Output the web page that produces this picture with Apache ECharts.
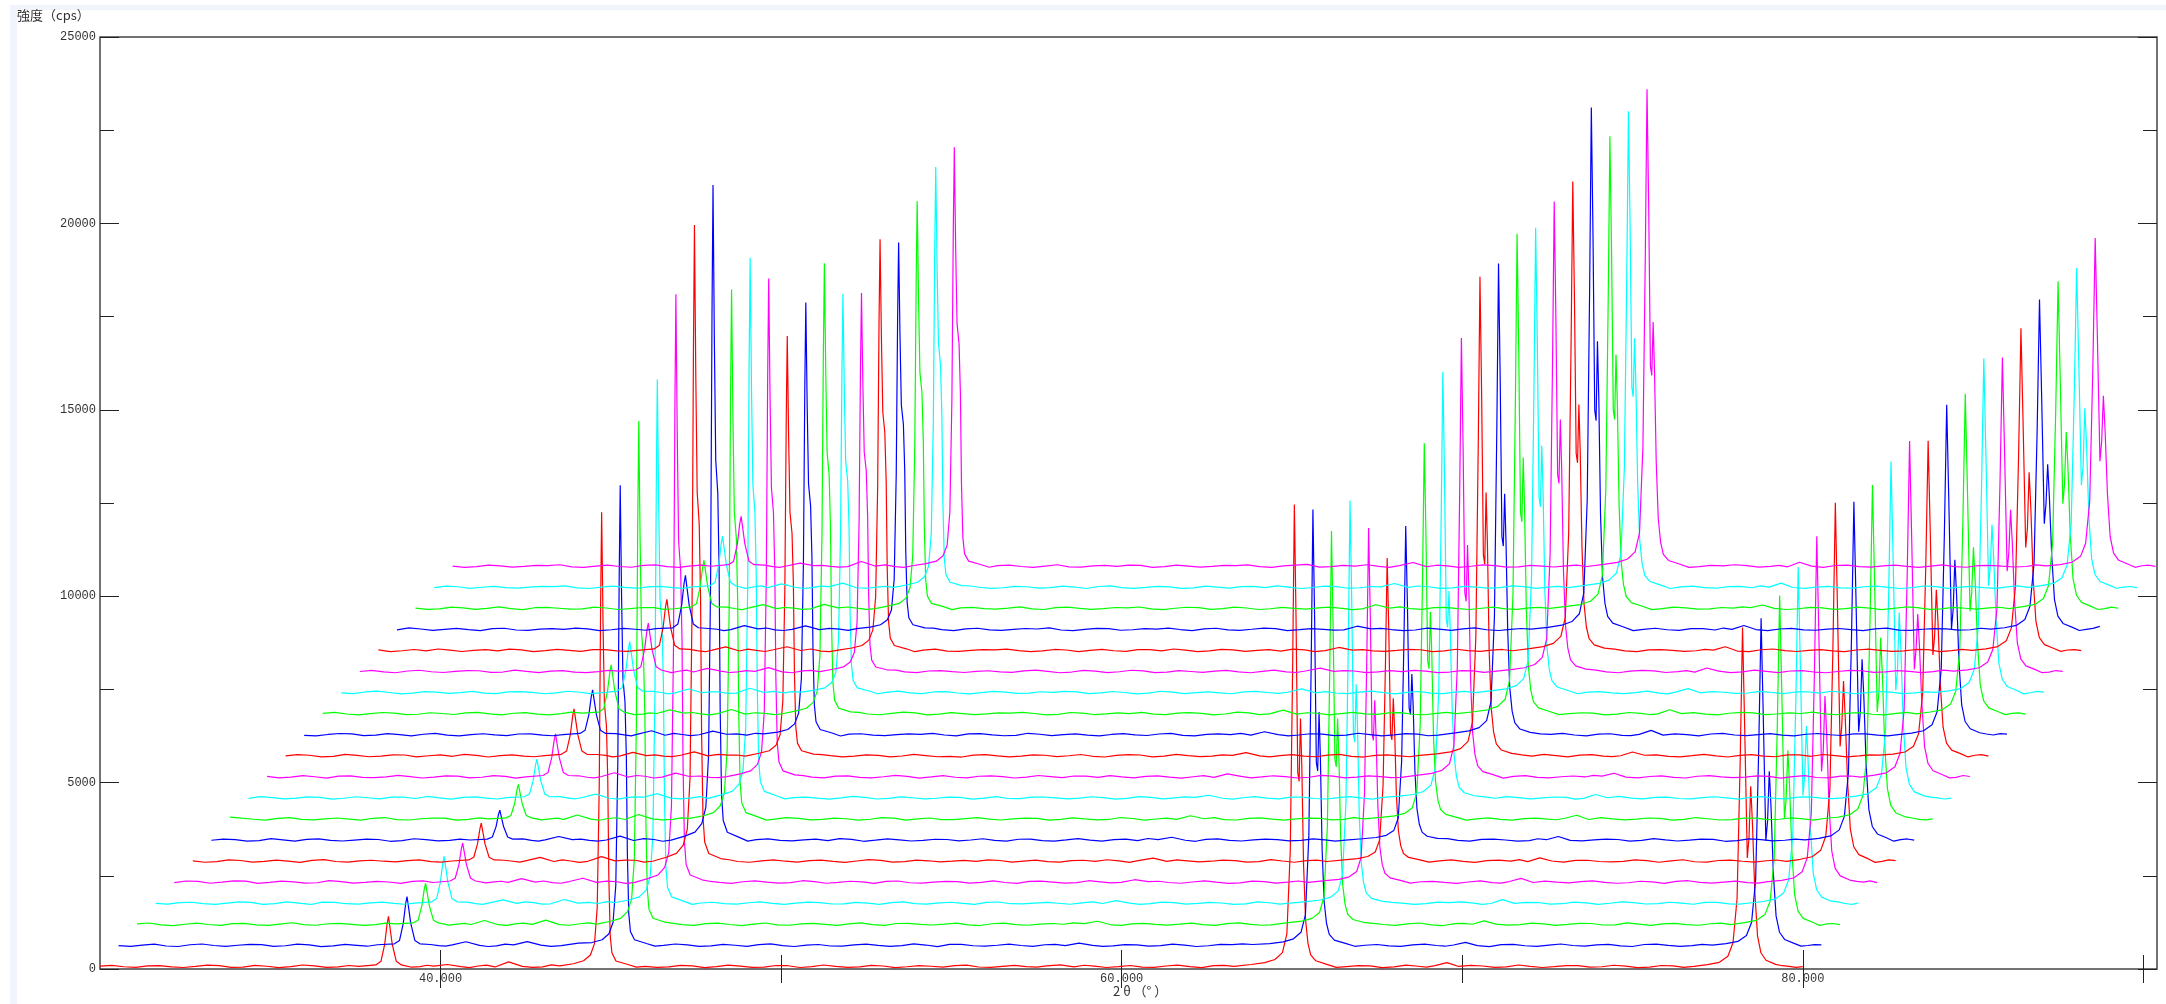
<!DOCTYPE html>
<html><head><meta charset="utf-8"><style>html,body{margin:0;padding:0;background:#fff}#c{width:2166px;height:1004px}</style>
<script src="https://cdn.jsdelivr.net/npm/echarts@6/dist/echarts.min.js"></script></head>
<body><div id="c"></div>
<script>
const twoTheta=[30,30.7,31.4,32.1,32.8,33.5,34.2,34.9,35.6,36.3,37,37.6,
38.1,38.25,38.36,38.43,38.47,38.51,38.58,38.7,38.85,
39.4,39.8,40.2,40.6,41.1,41.6,42,42.4,43,43.5,
43.9,44.2,44.4,44.52,44.6,44.66,44.7,44.73,44.77,44.81,44.87,44.91,44.94,44.98,45.03,45.15,45.5,
46,46.7,47.4,48.1,48.8,49.5,50.2,50.9,51.6,52.3,53,53.7,54.4,55.1,55.8,56.5,57.2,57.8,58.2,58.6,59.2,59.9,60.6,61.3,62,62.7,63.3,
63.8,64.2,64.5,64.72,64.85,64.95,65.02,65.07,65.12,65.17,65.21,65.25,65.29,65.34,65.4,65.47,65.55,65.7,66,
66.6,67.3,68,68.7,69.2,69.55,69.9,70.6,71.3,72,72.7,73.4,74.1,74.8,75.5,76.2,76.8,
77.2,77.55,77.8,77.95,78.07,78.16,78.23,78.29,78.37,78.42,78.47,78.52,78.59,78.67,78.77,78.92,79.2,
79.6,80];
const baselineTheta=[30.35,31.05,31.75,32.45,33.15,33.85,34.55,35.25,35.95,36.65,37.3,
39.15,39.6,40.85,41.35,42.7,43.25,
45.75,46.35,47.05,47.75,48.45,49.15,49.85,50.55,51.25,51.95,52.65,53.35,54.05,54.75,55.45,56.15,56.85,57.5,58.9,59.55,60.25,60.95,61.65,62.35,63,
66.3,66.95,67.65,68.35,68.95,70.25,70.95,71.65,72.35,73.05,73.75,74.45,75.15,75.85,76.5,
79.4,79.8];
const scan01=[75,60,82,55,70,88,52,74,63,85,58,72,110,205,670,1210,1410,1140,670,205,110,65,78,120,62,80,55,190,70,58,85,140,220,375,680,1650,4940,9810,12250,9330,7130,6530,5060,2510,920,435,215,120,
70,58,84,62,76,50,88,66,72,56,81,60,74,90,54,70,63,85,110,57,78,66,52,80,62,90,72,
120,170,255,440,940,3170,8120,12460,9360,5270,5030,6720,5390,2800,1310,690,380,220,130,
66,82,58,74,90,170,68,80,55,72,64,88,60,76,52,84,70,
115,180,340,705,1890,5520,9160,6615,2980,3520,4900,3930,2070,890,435,235,125,70,62];
const scan01b=[98,44,92,40,104,46,96,38,108,42,94,48,100,36,106,44,110,50,42,96,38,102,46,94,40,108,44,98,36,92,50,104,42,96,48,100,40,94,46,106,38,98,44,90,36,104,48,96,42,108,40,92,50,100,38,94,46,88,44];
const scan02=[60,78,52,85,66,72,90,58,80,54,70,86,110,200,660,1185,1380,1120,660,200,110,62,80,165,68,55,82,170,74,60,130,145,220,380,690,1675,5005,9940,12410,9450,7225,6610,5130,2540,935,440,220,120,
68,80,56,72,88,60,75,52,84,70,62,78,95,58,72,66,86,60,130,70,55,82,64,76,58,88,92,
117,164,245,420,888,2992,7668,11760,8838,4980,4746,6330,5078,2642,1239,655,362,210,128,
72,56,84,66,78,150,62,88,58,74,66,80,54,92,70,60,78,
114,175,333,684,1824,5332,8840,6384,2876,3403,4740,3806,2000,859,421,228,123,66,82];
const scan02b=[42,100,38,106,44,94,40,104,36,98,46,92,48,38,102,44,96,50,106,40,96,44,108,38,92,48,100,42,110,36,94,46,104,40,98,44,90,50,102,38,96,108,44,92,40,100,46,36,98,42,106,48,94,38,104,44,96,50,88];
const scan03=[82,56,70,64,88,54,76,60,84,68,58,80,105,180,565,1005,1170,950,565,180,105,72,64,170,58,78,66,180,60,84,72,150,230,408,745,1825,5470,10870,13570,10330,7900,7225,5605,2770,1015,475,230,125,
60,86,64,74,54,82,68,78,58,90,66,72,52,84,62,76,70,88,150,56,80,68,74,60,86,66,54,
112,154,228,386,808,2708,6928,10620,7982,4501,4290,5590,4486,2391,1125,598,334,197,123,
64,80,56,86,70,160,74,58,82,66,90,54,72,78,62,84,60,
114,176,335,687,1834,5362,8890,6420,2892,3422,4740,3806,2010,864,423,229,123,78,60];
const scan03b=[104,36,98,42,94,38,110,44,96,40,102,46,92,38,100,44,106,92,40,98,36,104,44,96,38,108,42,94,50,100,36,98,44,90,106,40,94,48,102,38,108,44,96,40,104,36,92,46,100,42,94,50,108,38,96,44,102,40,90];
const scan04=[66,84,58,72,90,60,74,100,56,80,66,70,108,195,635,1140,1330,1080,635,195,108,60,80,160,66,84,54,170,72,62,88,155,240,420,772,1900,5690,11310,14120,10750,8220,7515,5830,2880,1055,490,240,125,
76,58,82,66,72,88,54,70,84,60,78,64,92,56,74,68,80,62,140,72,58,86,66,76,54,82,70,
113,156,232,394,826,2770,7090,10870,8170,4606,4390,5940,4766,2446,1150,610,340,200,124,
70,58,84,74,62,165,66,88,56,78,68,84,60,72,90,54,76,
115,178,341,701,1874,5482,9090,6564,2956,3498,4820,3870,2054,882,431,232,124,62,76];
const scan04b=[44,96,38,104,40,108,36,94,46,100,42,98,40,106,44,92,110,38,96,44,104,36,100,48,92,40,108,44,96,38,102,50,94,42,106,40,98,44,90,36,104,46,92,40,98,106,38,94,44,100,36,108,48,96,42,90,44,104,38];
const scan05=[58,88,70,96,62,78,54,84,66,74,90,60,100,175,540,960,1120,910,540,175,100,78,62,165,70,56,86,175,64,80,58,165,260,465,860,2120,6380,12690,15840,12055,9215,8430,6535,3225,1175,545,260,133,
64,80,72,58,86,62,76,90,54,70,82,66,60,88,72,56,78,64,135,84,60,74,68,52,86,72,62,
108,146,212,355,735,2445,6245,9570,7195,4060,3870,4950,3974,2160,1020,545,308,184,118,
80,62,74,56,86,170,60,72,84,66,54,78,88,62,70,58,82,
116,181,348,720,1926,5638,9350,6752,3040,3596,5060,4062,2112,905,441,237,126,72,56];
const scan05b=[100,40,106,36,96,44,110,42,92,38,104,48,94,100,40,98,38,88,36,102,44,108,40,94,38,100,46,92,42,106,36,98,44,108,50,94,40,104,36,96,46,100,42,92,38,106,44,96,50,102,40,94,36,108,42,98,46,90,104];
const scan06=[74,56,86,62,70,90,58,76,66,84,54,72,100,172,530,935,1090,885,530,172,100,66,84,170,58,72,64,190,76,92,66,172,275,495,925,2290,6895,13720,17130,13035,9965,9110,7065,3480,1265,580,275,138,
58,76,66,84,60,72,88,54,78,68,62,86,70,56,82,64,74,90,150,60,76,66,84,54,72,80,58,
103,135,192,314,639,2103,5355,8200,6168,3485,3322,4440,3566,1859,883,477,273,168,111,
76,60,82,68,56,155,72,88,58,64,80,74,52,86,66,78,60,
118,185,358,743,1992,5836,9680,6989,3145,3722,4900,3934,2184,935,454,243,128,64,80];
const scan06b=[38,102,44,96,36,108,42,92,48,100,40,92,40,104,36,98,44,106,38,100,44,94,36,108,42,96,50,90,104,40,98,44,92,106,36,100,48,96,40,110,38,94,44,102,36,96,108,42,92,46,100,38,106,44,94,40,98,36,104];
const scan07=[64,82,54,74,88,60,68,84,56,78,62,70,95,150,430,750,870,710,430,150,95,58,74,165,82,60,70,175,56,84,68,175,280,510,950,2355,7100,14125,17640,13425,10260,9380,7275,3585,1300,595,280,140,
82,60,72,54,88,66,76,58,84,70,62,90,56,74,66,80,52,78,145,64,86,58,72,82,60,74,66,
104,137,196,323,659,2175,5543,8490,6385,3606,3438,4520,3630,1922,912,491,281,171,112,
62,86,70,54,78,165,60,76,84,58,72,66,88,56,80,64,74,
115,179,342,705,1884,5512,9140,6600,2972,3517,4920,3950,2065,886,433,233,124,80,66];
const scan07b=[96,40,106,38,100,44,92,36,104,46,94,102,38,96,42,108,36,40,98,46,92,106,36,100,44,90,48,104,38,96,42,108,40,94,110,36,100,44,92,48,98,38,106,42,94,38,104,48,96,40,108,44,92,36,100,46,94,38,98];
const scan08=[120,62,84,58,72,66,88,54,76,90,60,70,98,162,485,855,995,810,485,162,98,74,60,175,66,82,56,190,72,58,84,155,240,425,780,1915,5750,11430,14270,10860,8305,7595,5890,2910,1065,495,240,127,
66,84,58,76,62,90,70,54,80,64,74,86,60,72,56,82,68,60,155,76,54,84,66,72,88,58,70,
110,151,221,372,776,2590,6622,10150,7630,4304,4102,5630,4518,2288,1078,574,322,191,120,
74,58,80,64,88,170,56,72,66,84,60,76,54,90,62,70,82,
115,178,339,697,1862,5446,9030,6521,2937,3475,4930,3958,2041,876,428,231,124,58,74];
const scan08b=[90,38,104,44,96,36,108,42,94,40,100,46,94,36,102,44,98,38,106,44,92,40,108,36,96,50,104,42,94,38,100,46,108,36,92,104,42,98,36,94,46,106,40,100,38,92,48,104,44,96,36,108,42,90,50,100,38,96,44];
const scan09=[56,78,66,86,60,74,92,54,70,84,62,76,100,174,538,955,1110,900,538,174,100,64,80,170,60,76,88,185,62,72,56,157,245,432,795,1955,5866,11660,14560,11080,8475,7750,6010,2970,1085,505,245,128,
78,62,70,86,56,74,60,84,66,54,90,72,64,78,58,82,70,86,140,60,74,66,88,54,76,62,84,
116,161,241,413,870,2928,7500,11500,8643,4871,4642,5620,4510,2585,1213,642,356,207,127,
60,78,68,84,56,160,74,62,86,54,76,70,82,58,88,66,72,
115,178,341,701,1874,5482,9090,6564,2956,3498,5040,4046,2054,882,431,232,124,70,62];
const scan09b=[106,42,98,36,100,44,92,108,38,96,40,102,46,36,98,42,104,44,92,38,108,40,96,46,90,36,104,48,94,42,100,38,106,44,96,36,102,44,92,40,106,38,96,102,42,94,38,108,44,90,46,100,36,104,42,96,50,92,40];
const scan10=[80,60,72,88,54,68,76,62,90,58,82,66,105,185,590,1048,1220,990,590,185,105,58,72,180,64,86,60,170,78,54,74,150,230,404,738,1808,5418,10766,13440,10230,7825,7155,5550,2744,1006,471,230,123,
62,88,54,72,80,66,58,86,74,60,76,92,56,68,84,62,72,54,150,82,66,76,58,90,64,74,56,
117,164,247,423,894,3012,7720,11840,8898,5013,4778,6290,5046,2659,1247,659,364,211,129,
84,56,72,66,90,165,62,78,54,86,70,60,80,74,52,88,64,
115,178,340,701,1872,5476,9080,6557,2953,3494,4440,3566,2052,881,430,232,124,56,78];
const scan10b=[40,104,36,96,46,108,38,94,42,100,36,98,44,106,38,92,48,104,40,96,44,108,36,100,42,94,38,106,46,90,104,40,96,36,102,44,98,38,110,42,94,48,36,100,44,92,108,40,96,38,104,46,94,36,100,44,92,42,106];
const scan11=[66,84,54,78,62,90,70,56,82,72,60,76,108,195,635,1140,1330,1080,635,195,108,78,62,160,72,58,84,175,66,88,60,138,205,350,633,1534,4574,9078,11330,8628,6600,6038,4687,2322,858,408,205,115,
72,58,82,64,76,54,88,68,60,84,70,56,78,90,62,74,58,82,155,66,72,60,86,54,78,68,80,
121,173,263,456,970,3283,8423,12920,9708,5467,5210,7130,5718,2897,1355,713,391,224,134,
58,76,88,62,70,170,84,54,72,66,80,60,92,56,74,68,86,
112,171,324,662,1760,5140,8520,6154,2774,3281,4520,3630,1929,830,408,222,121,84,60];
const scan11b=[100,38,106,44,94,40,96,108,36,92,44,104,38,96,46,106,90,100,38,96,42,108,44,36,102,40,94,46,104,36,98,42,108,48,94,38,100,44,106,36,96,44,92,106,38,100,46,94,42,108,36,98,44,92,104,40,96,38,102];
const scan12=[54,76,90,60,70,82,58,74,66,88,56,72,105,190,610,1090,1270,1030,610,190,105,64,84,175,56,76,68,165,82,60,90,140,209,360,650,1577,4706,9342,11660,8878,6792,6213,4822,2388,881,418,209,116,
84,56,70,78,62,90,66,54,82,72,60,76,64,88,54,80,70,58,150,74,62,86,56,72,66,84,60,
120,171,260,449,955,3230,8286,12710,9550,5379,5126,6530,5238,2851,1334,702,386,222,133,
76,62,84,54,80,185,58,70,88,62,74,56,82,68,90,60,72,
114,176,336,690,1840,5380,8920,6442,2902,3433,4760,3822,2017,867,424,229,123,62,84];
const scan12b=[36,102,44,98,40,106,38,96,46,92,42,100,38,104,44,94,108,36,96,46,90,104,38,100,42,108,44,94,36,98,48,106,40,92,104,38,96,44,108,36,100,42,94,104,38,96,46,92,40,106,44,98,36,102,48,94,40,88,100];
const scan13=[78,60,68,84,54,74,90,62,80,56,70,86,110,200,660,1185,1380,1120,660,200,110,56,74,170,84,62,70,180,58,78,66,142,215,372,674,1640,4902,9734,12150,9251,7076,6472,5023,2486,916,432,215,118,
60,78,88,56,72,64,84,74,52,86,66,70,58,82,76,60,90,64,165,56,80,70,62,88,54,76,68,
121,173,263,456,971,3288,8436,12940,9723,5475,5218,6940,5566,2901,1357,714,392,224,134,
68,84,58,76,62,175,72,56,80,90,60,74,66,86,54,78,62,
113,173,327,671,1786,5218,8650,6248,2816,3330,4530,3638,1958,842,413,224,121,76,58];
const scan13b=[104,36,100,42,94,46,106,38,98,36,108,44,92,100,38,94,44,102,40,108,36,96,44,92,106,38,100,46,90,104,42,96,38,108,44,94,36,102,48,96,40,106,42,94,38,100,46,96,36,104,44,92,108,40,98,36,102,44,90];
const scan14=[62,86,72,56,80,66,54,88,74,60,78,64,110,207,686,1235,1440,1166,686,207,110,72,60,165,66,86,54,185,76,64,82,134,198,338,605,1461,4350,8630,10770,8202,6276,5741,4457,2210,819,391,198,113,
74,62,86,58,70,80,54,76,90,64,72,56,84,66,60,88,72,78,170,64,58,84,70,76,54,82,66,
120,170,257,444,943,3188,8176,12540,9423,5307,5058,6690,5366,2813,1317,694,382,220,132,
82,60,70,56,88,175,64,78,58,72,86,54,74,66,84,60,76,
115,178,339,697,1862,5446,9030,6521,2937,3475,4570,3670,2041,876,428,231,124,66,80];
const scan14b=[40,108,36,94,46,102,42,96,38,106,44,100,36,92,48,104,96,38,108,42,94,36,100,46,92,104,40,98,36,106,44,90,38,102,46,94,40,108,36,98,44,104,38,96,42,108,36,94,46,100,40,92,106,38,98,44,90,36,104];
const scan15=[70,58,84,64,76,90,56,72,82,54,68,78,110,200,655,1175,1370,1110,655,200,110,84,56,155,78,62,72,175,60,86,66,131,192,324,578,1390,4130,8190,10220,7784,5957,5450,4232,2100,780,375,192,111,
58,84,66,74,60,88,72,56,78,64,86,52,70,82,62,76,58,90,160,72,84,60,66,78,56,86,72,
120,171,259,448,953,3223,8267,12680,9528,5366,5114,6830,5478,2844,1331,700,385,221,133,
62,78,86,66,54,165,80,60,74,84,56,70,90,58,76,66,82,
112,171,323,659,1754,5122,8490,6132,2764,3270,4410,3542,1922,828,407,222,121,54,76];
const scan15b=[100,36,104,44,92,46,108,38,96,42,102,38,106,44,94,36,100,108,38,96,44,90,48,106,36,98,42,104,38,94,46,100,36,108,44,92,38,96,102,42,94,46,108,36,100,44,94,38,106,42,96,36,102,48,92,40,108,38,96];
const scan16=[84,62,56,78,70,60,86,66,74,90,58,72,110,207,686,1235,1440,1166,686,207,110,60,78,165,56,72,88,170,68,54,80,136,202,346,622,1504,4482,8894,11100,8453,6467,5916,4592,2276,842,401,202,114,
78,54,72,84,66,58,82,70,62,90,56,76,60,86,74,52,84,66,150,78,60,72,88,56,66,80,62,
120,171,259,447,951,3215,8247,12650,9505,5354,5102,6670,5350,2838,1328,699,385,221,133,
56,84,70,62,78,170,54,88,66,72,58,82,74,60,90,64,70,
113,174,329,675,1798,5254,8710,6291,2835,3353,4850,3894,1971,848,416,226,122,82,64];
const scan16b=[38,96,108,42,94,104,36,100,44,92,46,98,36,104,42,108,38,36,104,44,92,106,40,96,38,100,46,92,108,36,98,44,90,106,38,94,46,100,36,102,44,96,104,40,92,46,100,36,108,42,94,38,104,44,96,36,100,46,92];
const scan17=[58,80,72,64,88,54,76,68,84,60,74,90,113,215,720,1300,1520,1230,720,215,113,74,62,170,84,58,70,165,62,76,92,132,195,330,589,1419,4222,8374,10450,7959,6090,5571,4326,2146,797,381,195,112,
64,86,58,72,80,54,70,88,60,76,66,82,56,74,90,62,70,58,155,84,66,54,78,86,60,72,76,
126,182,280,490,1050,3570,9170,14070,10570,5950,5670,7800,6254,3150,1470,770,420,238,140,
72,60,88,54,70,175,66,80,58,76,62,84,52,74,86,60,78,
114,176,336,690,1840,5380,8920,6442,2902,3433,4500,3614,2017,867,424,229,123,68,150];
const scan17b=[108,42,96,36,100,44,92,104,38,98,46,94,38,106,40,96,44,104,36,100,42,94,108,38,96,46,90,102,36,100,44,106,38,92,48,96,36,104,44,108,40,94,36,100,44,92,106,38,98,46,94,36,104,42,92,48,100,40,96];
const scan18=[76,54,82,68,60,86,72,56,78,64,90,58,108,199,650,1165,1360,1100,650,199,108,58,84,170,62,76,56,175,82,68,60,135,201,343,616,1490,4438,8806,10990,8369,6404,5858,4547,2254,834,398,201,114,
82,60,74,56,88,68,62,80,54,72,86,64,78,58,66,84,70,54,165,76,60,88,64,72,56,82,68,
121,171,260,450,956,3235,8299,12730,9565,5387,5134,6880,5518,2855,1336,703,387,222,133,
64,80,54,74,88,160,70,58,84,62,76,66,90,56,72,82,60,
114,175,333,684,1824,5332,8840,6384,2876,3403,4800,3854,2000,859,421,228,123,60,72];
const scan18b=[40,100,44,108,36,96,46,104,38,92,42,100,36,96,44,106,40,36,94,46,108,38,100,42,92,106,36,98,44,104,38,94,48,100,36,108,42,96,38,104,44,94,36,100,46,92,108,38,96,44,102,36,106,42,94,48,98,38,104];
const scan19=[62,84,70,58,76,88,54,72,66,82,60,78,110,207,686,1235,1440,1166,686,207,110,84,58,160,70,62,86,180,56,74,68,138,205,352,634,1535,4578,9086,11340,8635,6607,6043,4691,2324,859,408,205,115,
70,56,84,62,76,90,58,68,82,54,74,88,60,72,64,86,56,78,170,66,84,54,72,60,88,76,62,
121,172,262,453,964,3263,8371,12840,9648,5433,5178,6750,5414,2879,1347,709,389,223,134,
78,62,86,56,72,180,64,76,54,84,68,60,88,72,58,80,66,
113,173,327,669,1782,5206,8630,6233,2809,3323,4870,3910,1953,840,412,224,121,74,58];
const scan19b=[102,38,96,46,92,106,36,100,44,94,40,40,108,36,98,44,92,104,38,94,46,100,36,108,42,96,38,102,46,92,106,36,98,44,90,104,38,96,44,108,40,94,36,100,44,96,106,38,92,46,100,36,104,42,94,38,108,44,90];
const scan20=[72,58,80,66,86,54,74,62,90,60,76,68,110,205,670,1210,1410,1140,670,205,110,56,76,150,84,66,58,195,74,60,82,137,205,351,632,1531,4566,9062,11310,8612,6589,6027,4678,2318,857,407,205,115,
86,62,72,54,80,66,90,58,74,64,84,56,76,120,60,72,66,84,170,58,76,68,86,54,72,80,62,
121,172,262,454,965,3268,8384,12860,9663,5442,5186,6620,5310,2884,1349,710,390,223,134,
60,76,84,66,54,175,72,88,58,80,64,74,56,86,70,62,78,
114,176,334,686,1830,5350,8870,6406,2886,3414,4640,3726,2006,862,422,228,123,82,64];
const scan20b=[36,100,44,94,108,38,96,42,104,36,98,100,40,92,46,106,38,42,98,36,108,44,92,100,38,96,46,90,104,36,100,44,94,108,40,96,36,106,44,92,48,100,38,94,108,44,90,36,100,46,96,38,104,42,94,48,106,40,96];
const scans=[scan01,scan02,scan03,scan04,scan05,scan06,scan07,scan08,scan09,scan10,scan11,scan12,scan13,scan14,scan15,scan16,scan17,scan18,scan19,scan20];
const scansBaseline=[scan01b,scan02b,scan03b,scan04b,scan05b,scan06b,scan07b,scan08b,scan09b,scan10b,scan11b,scan12b,scan13b,scan14b,scan15b,scan16b,scan17b,scan18b,scan19b,scan20b];
const scanColors=['#ff0000','#0000ff','#00ff00','#00ffff','#ff00ff'];
const xShiftPerScan=0.545, yShiftPerScan=565;
const xTickLabels=[40,60,80], xMinorTicks=[50,70,90];
const yTickLabels=[0,5000,10000,15000,20000,25000], yMinorTicks=[2500,7500,12500,17500,22500];
const xMin=30,xMax=90.4,yMin=0,yMax=25000;
const yTitle='強度（cps）', xTitle='2 θ （° ）';

const monoFont='"Liberation Mono","DejaVu Sans Mono",monospace';
const xAx=(pos,vals,len,labels)=>({type:'value',position:pos,min:xMin,max:xMax,splitLine:{show:false},axisLine:{show:false},
  axisTick:{show:true,inside:true,length:len,customValues:vals,lineStyle:{color:'#222',width:1}},
  axisLabel:labels?{show:true,customValues:vals,margin:4,color:'#333',fontFamily:monoFont,fontSize:12,formatter:v=>v.toFixed(3)}:{show:false}});
const yAx=(pos,vals,len,labels)=>({type:'value',position:pos,min:yMin,max:yMax,splitLine:{show:false},axisLine:{show:false},
  axisTick:{show:true,inside:true,length:len,customValues:vals,lineStyle:{color:'#222',width:1}},
  axisLabel:labels?{show:true,customValues:vals,margin:4,color:'#333',fontFamily:monoFont,fontSize:12,formatter:v=>String(v)}:{show:false}});

const chart=echarts.init(document.getElementById('c'),null,{renderer:'canvas'});
chart.setOption({
  animation:false,backgroundColor:'#fff',
  title:[
    {text:yTitle,left:17,top:9,padding:0,textStyle:{color:'#333',fontWeight:'normal',fontSize:13,fontFamily:'"Noto Sans CJK JP"'}},
    {text:xTitle,left:1113,top:985,padding:0,textStyle:{color:'#333',fontWeight:'normal',fontSize:13,fontFamily:'"Noto Sans CJK JP"'}}
  ],
  graphic:[
    {type:'rect',silent:true,z:-1,shape:{x:10,y:5,width:2156,height:5},style:{fill:'#f1f5fb'}},
    {type:'rect',silent:true,z:-1,shape:{x:10,y:5,width:7,height:999},style:{fill:'#f1f5fb'}}
  ],
  grid:{left:100,right:9,top:37,bottom:35,show:true,backgroundColor:'#fff',borderColor:'#444',borderWidth:1.5},
  xAxis:[xAx('bottom',xTickLabels,19,true),xAx('bottom',xMinorTicks,14,false),xAx('top',xTickLabels,19,false),xAx('top',xMinorTicks,14,false)],
  yAxis:[yAx('left',yTickLabels,19,true),yAx('left',yMinorTicks,14,false),yAx('right',yTickLabels,19,false),yAx('right',yMinorTicks,14,false)],
  series:scans.map((vals,i)=>{
    const main=vals.map((v,k)=>[twoTheta[k],v]);
    const base=scansBaseline[i].map((v,k)=>[baselineTheta[k],v]);
    const pts=main.concat(base).sort((a,b)=>a[0]-b[0]);
    return {type:'line',xAxisIndex:0,yAxisIndex:0,showSymbol:false,symbol:'none',clip:true,
      lineStyle:{color:scanColors[i%5],width:1.2},itemStyle:{color:scanColors[i%5]},
      data:pts.map(p=>[+(p[0]+i*xShiftPerScan).toFixed(3),p[1]+i*yShiftPerScan])};
  })
});
</script></body></html>
